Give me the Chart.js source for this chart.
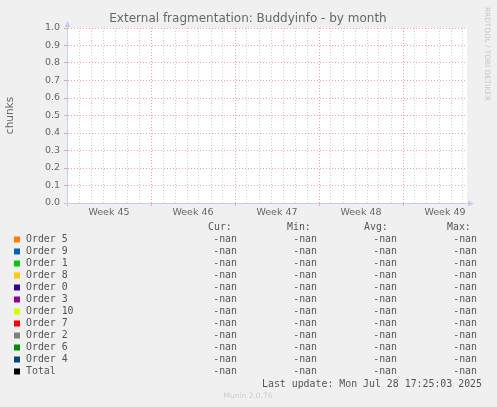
<!DOCTYPE html>
<html>
<head>
<meta charset="utf-8">
<script src="https://cdn.jsdelivr.net/npm/chart.js@4/dist/chart.umd.min.js"></script>
<style>
  html, body { margin: 0; padding: 0; background: #f0f0f0; }
  #wrap { width: 497px; height: 407px; position: relative; }
</style>
</head>
<body>
<div id="wrap"><canvas id="myChart" width="497" height="407"></canvas></div>
<script>
// chart data
const weekLabels = ["Week 45", "Week 46", "Week 47", "Week 48", "Week 49"];
const seriesNames = ["Order 5", "Order 9", "Order 1", "Order 8", "Order 0", "Order 3",
  "Order 10", "Order 7", "Order 2", "Order 6", "Order 4", "Total"];
const seriesColors = ["#ff8000", "#0066b3", "#00cc00", "#ffcc00", "#330099", "#990099",
  "#ccff00", "#ff0000", "#808080", "#008f00", "#00487d", "#000000"];
// no samples in the month, every series is empty
const seriesValues = [[], [], [], [], [], [], [], [], [], [], [], []];
const curValues = [NaN, NaN, NaN, NaN, NaN, NaN, NaN, NaN, NaN, NaN, NaN, NaN];
const minValues = [NaN, NaN, NaN, NaN, NaN, NaN, NaN, NaN, NaN, NaN, NaN, NaN];
const avgValues = [NaN, NaN, NaN, NaN, NaN, NaN, NaN, NaN, NaN, NaN, NaN, NaN];
const maxValues = [NaN, NaN, NaN, NaN, NaN, NaN, NaN, NaN, NaN, NaN, NaN, NaN];
const daysShown = 400 / 12;

const MAJOR = "#e9a3a3";
const MINOR = "#cfcfcf";
const AXIS = "#c8ccf4";
const FONT_COLOR = "#666666";

const fmt = (v) => (isNaN(v) ? "-nan" : v.toFixed(2));

const munin = {
  id: "munin",
  beforeDraw(chart) {
    const { ctx, chartArea: a } = chart;
    ctx.save();
    ctx.fillStyle = "#ffffff";
    ctx.fillRect(a.left, a.top, a.right - a.left, a.bottom - a.top);
    ctx.restore();
  },
  afterDraw(chart) {
    const { ctx, chartArea: a } = chart;
    ctx.save();
    // axis lines and arrows
    ctx.strokeStyle = AXIS;
    ctx.lineWidth = 1;
    ctx.beginPath();
    ctx.moveTo(a.left + 0.5, a.bottom + 2);
    ctx.lineTo(a.left + 0.5, a.top - 2);
    ctx.moveTo(a.left - 2, a.bottom + 0.5);
    ctx.lineTo(a.right + 2, a.bottom + 0.5);
    ctx.stroke();
    ctx.fillStyle = AXIS;
    ctx.beginPath();
    ctx.moveTo(a.left - 2.5, a.top - 1);
    ctx.lineTo(a.left + 3.5, a.top - 1);
    ctx.lineTo(a.left + 0.5, a.top - 7);
    ctx.fill();
    ctx.beginPath();
    ctx.moveTo(a.right + 1, a.bottom - 2.5);
    ctx.lineTo(a.right + 1, a.bottom + 3.5);
    ctx.lineTo(a.right + 7, a.bottom + 0.5);
    ctx.fill();

    // title
    ctx.fillStyle = FONT_COLOR;
    ctx.font = "12px 'DejaVu Sans'";
    ctx.textAlign = "center";
    ctx.textBaseline = "middle";
    ctx.fillText("External fragmentation: Buddyinfo - by month", 248, 19);

    // vertical label
    ctx.save();
    ctx.translate(10, (a.top + a.bottom) / 2);
    ctx.rotate(-Math.PI / 2);
    ctx.font = "10.5px 'DejaVu Sans'";
    ctx.fillText("chunks", 0, 0);
    ctx.restore();

    // rrdtool watermark
    ctx.save();
    ctx.translate(487, 54);
    ctx.rotate(Math.PI / 2);
    ctx.fillStyle = "#c8c8c8";
    ctx.font = "7.3px 'DejaVu Sans'";
    ctx.fillText("RRDTOOL / TOBI OETIKER", 0, 0);
    ctx.restore();

    // legend table
    ctx.font = "9.9px 'DejaVu Sans Mono'";
    ctx.fillStyle = "#555555";
    ctx.textAlign = "left";
    const heads = [["Cur:", 208], ["Min:", 287], ["Avg:", 364], ["Max:", 447]];
    heads.forEach(([t, x]) => ctx.fillText(t, x, 227.5));
    const cols = [curValues, minValues, avgValues, maxValues];
    const rightEdges = [237, 317, 397, 477];
    seriesNames.forEach((name, i) => {
      const y = 239.5 + i * 12;
      ctx.fillStyle = seriesColors[i];
      ctx.fillRect(14, y - 3, 6, 6);
      ctx.fillStyle = "#555555";
      ctx.textAlign = "left";
      ctx.fillText(name, 26, y);
      ctx.textAlign = "right";
      cols.forEach((col, c) => ctx.fillText(fmt(col[i]), rightEdges[c], y));
    });
    ctx.textAlign = "left";
    ctx.fillText("Last update: Mon Jul 28 17:25:03 2025", 262, 384);

    ctx.fillStyle = "#cccccc";
    ctx.font = "7.5px 'DejaVu Sans'";
    ctx.textAlign = "center";
    ctx.fillText("Munin 2.0.76", 248, 396);
    ctx.restore();
  },
};

const ctx = document.getElementById("myChart").getContext("2d");
new Chart(ctx, {
  type: "line",
  data: {
    datasets: seriesNames.map((name, i) => ({
      label: name,
      data: seriesValues[i],
      borderColor: seriesColors[i],
      backgroundColor: seriesColors[i],
      borderWidth: 1,
      pointRadius: 0,
    })),
  },
  plugins: [munin],
  options: {
    responsive: false,
    devicePixelRatio: 1,
    animation: false,
    layout: { padding: { top: 28, right: 30, left: 0, bottom: 0 } },
    plugins: { legend: { display: false }, tooltip: { enabled: false }, title: { display: false } },
    scales: {
      x: {
        type: "linear",
        min: 0,
        max: daysShown,
        afterBuildTicks(scale) {
          const vals = [];
          for (let d = 0; d <= Math.floor(daysShown); d++) vals.push(d);
          weekLabels.forEach((w, i) => vals.push(i * 7 + 3.5));
          vals.sort((p, q) => p - q);
          scale.ticks = vals.map((v) => ({ value: v }));
        },
        afterFit(scale) { scale.height = 407 - 203; },
        ticks: {
          autoSkip: false,
          maxRotation: 0,
          minRotation: 0,
          padding: 1,
          color: FONT_COLOR,
          font: { family: "DejaVu Sans", size: 9.5 },
          callback: (v) => (Number.isInteger(v) ? "" : weekLabels[Math.floor(v / 7)]),
        },
        grid: {
          lineWidth: 1,
          tickLength: 3,
          color: (c) => {
            const v = c.tick.value;
            if (!Number.isInteger(v)) return "rgba(0,0,0,0)";
            return v % 7 === 0 ? MAJOR : MINOR;
          },
          tickColor: (c) => (c.tick.value % 7 === 0 ? MAJOR : "rgba(0,0,0,0)"),
        },
        border: { color: AXIS, dash: [1, 2] },
      },
      y: {
        min: 0,
        max: 1,
        afterFit(scale) { scale.width = 67; },
        ticks: {
          stepSize: 0.1,
          padding: 4,
          color: FONT_COLOR,
          font: { family: "DejaVu Sans", size: 9.5 },
          callback: (v) => v.toFixed(1),
        },
        grid: { color: MAJOR, tickLength: 3, tickColor: MAJOR, lineWidth: 1 },
        border: { color: AXIS, dash: [1, 2] },
      },
    },
  },
});
</script>
</body>
</html>
